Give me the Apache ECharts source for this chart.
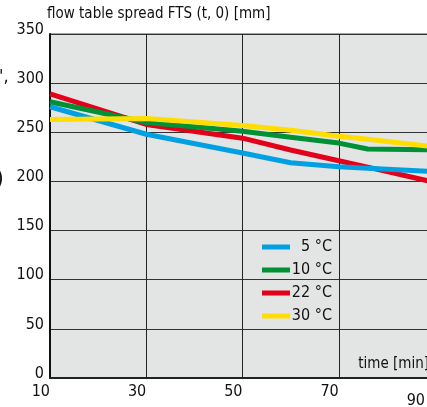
<!DOCTYPE html>
<html>
<head>
<meta charset="utf-8">
<script src="https://cdn.jsdelivr.net/npm/echarts@6/dist/echarts.min.js"></script>
<style>
  html, body { margin: 0; padding: 0; background: #fff; }
  #chart { width: 427px; height: 407px; }
</style>
</head>
<body>
<div id="chart"></div>
<script>
// time points (min) and flow table spread (mm) per temperature
var times = [10, 30, 50, 60, 70, 76, 90];
var fts5  = [276, 248, 229, 219, 215, 213.5, 210];
var fts10 = [281, 260, 251, 245, 239, 233, 232];
var fts22 = [289, 258, 244, 232, 221, 214.5, 199];
var fts30 = [263, 264, 257, 252, 246, 243, 235];
var names = ['5 °C', '10 °C', '22 °C', '30 °C'];
var colors = ['#00a0e3', '#009036', '#e3001b', '#ffdd00'];

var font = '"Liberation Sans Narrow", "DejaVu Sans Condensed", sans-serif';

function pairs(vals) {
    return times.map(function (t, i) { return [t, vals[i]]; });
}

var myChart = echarts.init(document.getElementById('chart'));
var option = {
    animation: false,
    textStyle: { fontFamily: font },
    grid: {
        left: 50, top: 34, right: -8, bottom: 29,
        outerBoundsMode: 'none',
        containLabel: false,
        show: true,
        backgroundColor: '#e3e4e4',
        borderColor: '#444',
        borderWidth: 1
    },
    legend: {
        data: names,
        orient: 'vertical',
        left: 257,
        top: 234,
        itemWidth: 28,
        itemHeight: 5,
        itemGap: 7,
        icon: 'rect',
        formatter: function (n) { return '{a|' + n + '}'; },
        textStyle: {
            color: '#111',
            fontFamily: font,
            fontSize: 16,
            rich: { a: { width: 37, align: 'right', fontSize: 16, fontFamily: font, color: '#111' } }
        }
    },
    xAxis: {
        type: 'value',
        min: 10, max: 90, interval: 20,
        name: 'time [min]',
        nameLocation: 'end',
        nameGap: 0,
        nameTextStyle: {
            align: 'right', verticalAlign: 'bottom',
            padding: [0, 6, 6, 0],
            fontSize: 15, color: '#111', fontFamily: font
        },
        axisLine: { show: true, lineStyle: { color: '#222', width: 2 } },
        axisTick: { show: false },
        splitLine: { show: true, lineStyle: { color: '#222', width: 1 } },
        axisLabel: {
            align: 'right',
            margin: 6,
            fontSize: 16,
            color: '#111',
            fontFamily: font,
            formatter: function (v) {
                return v === 90 ? '{b|90}' : String(v);
            },
            rich: { b: { fontSize: 16, color: '#111', fontFamily: font, padding: [9, 10, 0, 0] } }
        }
    },
    yAxis: {
        type: 'value',
        min: 0, max: 350, interval: 50,
        name: 'flow table spread FTS (t, 0) [mm]',
        nameLocation: 'end',
        nameGap: -1,
        nameTextStyle: {
            align: 'left', fontSize: 15, color: '#111', fontFamily: font,
            padding: [0, 0, 0, -3]
        },
        axisLine: { show: true, lineStyle: { color: '#111', width: 2 } },
        axisTick: { show: false },
        splitLine: { show: true, lineStyle: { color: '#333', width: 1 } },
        axisLabel: {
            margin: 6,
            fontSize: 16,
            color: '#111',
            fontFamily: font,
            verticalAlign: 'bottom',
            lineHeight: 9
        }
    },
    graphic: [
        { type: 'text', left: -1, top: 68, style: { text: "',", fontSize: 18, fill: '#111', fontFamily: font } },
        { type: 'text', left: -4, top: 168, style: { text: ')', fontSize: 22, fill: '#111', fontFamily: font } }
    ],
    series: [
        { name: names[2], type: 'line', data: pairs(fts22), symbol: 'none', lineStyle: { width: 5, color: colors[2] }, itemStyle: { color: colors[2] } },
        { name: names[1], type: 'line', data: pairs(fts10), symbol: 'none', lineStyle: { width: 5, color: colors[1] }, itemStyle: { color: colors[1] } },
        { name: names[0], type: 'line', data: pairs(fts5), symbol: 'none', lineStyle: { width: 5, color: colors[0] }, itemStyle: { color: colors[0] } },
        { name: names[3], type: 'line', data: pairs(fts30), symbol: 'none', lineStyle: { width: 5, color: colors[3] }, itemStyle: { color: colors[3] } }
    ]
};
myChart.setOption(option);
</script>
</body>
</html>
